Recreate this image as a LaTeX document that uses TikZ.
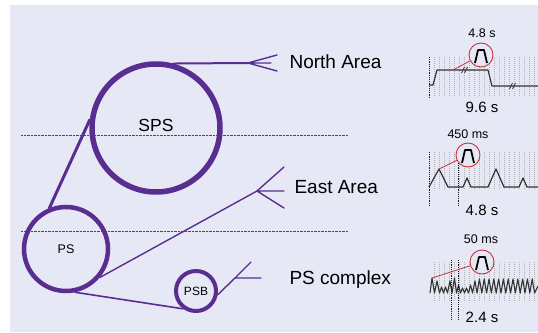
\documentclass[tikz,border=0pt]{standalone}
\usepackage{fontspec}
\setmainfont{Liberation Sans}
\definecolor{bgcol}{HTML}{E6E9F5}
\definecolor{ringcol}{HTML}{5A2D91}
\definecolor{zoomred}{HTML}{C8323C}
\tikzset{
  ring/.style={circle, draw=ringcol, inner sep=0pt, text=black},
  link/.style={draw=ringcol, line cap=round},
  fork/.style={draw=ringcol, line width=1.4pt, line cap=round},
  guide/.style={draw=black!70, line width=0.6pt, dash pattern=on 0.8pt off 0.6pt},
  tickline/.style={draw=black!30, line width=0.45pt, dash pattern=on 0.9pt off 1.1pt},
  marker/.style={draw=black!90, line width=0.8pt, dash pattern=on 1.2pt off 1pt},
  wave/.style={draw=black!80, line width=1.2pt, line join=round},
  zoomring/.style={circle, draw=zoomred, fill=bgcol, minimum size=24pt, inner sep=0pt, line width=0.9pt},
  zoomline/.style={draw=zoomred, line width=0.8pt},
  pulse/.style={draw=black, line width=1.8pt, line join=round},
  area/.style={anchor=west, font=\fontsize{19}{22}\selectfont},
  period/.style={font=\fontsize{15}{18}\selectfont},
  width/.style={font=\fontsize{12.5}{15}\selectfont}
}
\begin{document}
\begin{tikzpicture}[x=1pt, y=-1pt]
\useasboundingbox (0,0) rectangle (538,332);
\fill[bgcol] (10,5) rectangle (538,332);

% level separators
\draw[guide] (21,135) -- (348,135);
\draw[guide] (21,231) -- (348,231);

% accelerator rings
\node[ring, minimum size=128pt, line width=5.5pt, text depth=6pt, font=\fontsize{17.5}{20}\selectfont] (sps) at (156,128) {SPS};
\node[ring, minimum size=84pt, line width=4.5pt, font=\fontsize{12.5}{15}\selectfont] (ps) at (66,249) {PS};
\node[ring, minimum size=40pt, line width=4pt, font=\fontsize{12}{14}\selectfont] (psb) at (196,291) {PSB};

% fork points of the extraction lines
\coordinate (nfork) at (248,63);
\coordinate (efork) at (257,191);
\coordinate (cfork) at (235,278);

% transfer lines
\draw[link, line width=3pt] (sps.173) -- (ps.112);
\draw[link, line width=1.6pt] (ps.-78) -- (psb.-126);
\draw[link, line width=2pt] (sps.75) -- (nfork);
\draw[link, line width=1.4pt] (ps.-40) -- (efork);
\draw[link, line width=1.4pt] (psb.-10) -- (cfork);

% beam forks
\draw[fork] (nfork) -- (277,55) (nfork) -- (271,63) (nfork) -- (277,71);
\draw[fork] (efork) -- (284,167) (efork) -- (284,191) (efork) -- (284,208);
\draw[fork] (cfork) -- (251,262) (cfork) -- (261,278);

% destinations
\node[area] (north) at (286,62) {North Area};
\node[area] (east) at (291,187) {East Area};
\node[area] (cplx) at (286,280) {PS complex};

% ---- North Area cycle ----
\foreach \x in {434,439,...,536} \draw[tickline] (\x,57) -- (\x,97);
\draw[marker] (429,57) -- (429,97);
\draw[wave] (429,85) -- (433,85) -- (437,70) -- (488,70) -- (492,86) -- (538,86);
\draw[wave, line width=0.8pt] (461.5,73) -- (464.5,67) (464.5,73) -- (467.5,67);
\draw[wave, line width=0.8pt] (509.5,89) -- (512.5,83) (512.5,89) -- (515.5,83);
\node[zoomring] (z1) at (481,55) {};
\coordinate (p1) at (453,70);
\draw[zoomline] (p1) -- (z1);
\draw[pulse] ([shift={(-6,8)}]z1.center) -- ([shift={(-3,-5)}]z1.center) -- ([shift={(3,-5)}]z1.center) -- ([shift={(6,8)}]z1.center);
\node[width] (w1) at (482,33) {4.8 s};
\node[period] (t1) at (482,107) {9.6 s};

% ---- East Area cycle ----
\foreach \x in {434,439,...,536} \draw[tickline] (\x,152) -- (\x,189);
\draw[marker] (429,152) -- (429,205);
\draw[marker] (458,152) -- (458,205);
\draw[wave] (429,187) -- (439,169) -- (448,187) -- (463,187) -- (467,178) -- (471,187) -- (488,187) -- (496,169) -- (504,187) -- (519,187) -- (523,178) -- (527,187) -- (538,187);
\node[zoomring] (z2) at (468,155) {};
\coordinate (p2) at (439,169);
\draw[zoomline] (p2) -- (z2);
\draw[pulse] ([shift={(-6,8)}]z2.center) -- ([shift={(-3,-5)}]z2.center) -- ([shift={(3,-5)}]z2.center) -- ([shift={(6,8)}]z2.center);
\node[width] (w2) at (468,134) {450 ms};
\node[period] (t2) at (482,210) {4.8 s};

% ---- PS complex cycle ----
\foreach \x in {434,439,...,536} \draw[tickline] (\x,262) -- (\x,302);
\draw[wave, line width=1.1pt] (430,293) -- (432,278) -- (434.5,293) -- (437,281) -- (439.5,293) -- (441.5,287) -- (443.5,293) -- (445.5,287) -- (447.5,293) -- (450,281) -- (452,293) -- (454.5,278) -- (456.5,293) -- (458.5,285) -- (460.5,293) -- (462.5,288) -- (464.5,293) -- (466.5,288) -- (468.5,293) -- (470.5,285) -- (472.5,293) -- (475,281) -- (477,293)
  \foreach \k in {0,...,11} { -- ++(2.4,-14) -- ++(2.4,14) } -- (538,286);
\draw[marker] (451,260) -- (451,320);
\draw[marker] (458,260) -- (458,320);
\node[zoomring] (z3) at (482,262) {};
\coordinate (p3) at (432,278);
\draw[zoomline] (p3) -- (z3);
\draw[pulse] ([shift={(-6,8)}]z3.center) -- ([shift={(-3,-5)}]z3.center) -- ([shift={(3,-5)}]z3.center) -- ([shift={(6,8)}]z3.center);
\node[width] (w3) at (481,239) {50 ms};
\node[period] (t3) at (482,317) {2.4 s};
\end{tikzpicture}
\end{document}
